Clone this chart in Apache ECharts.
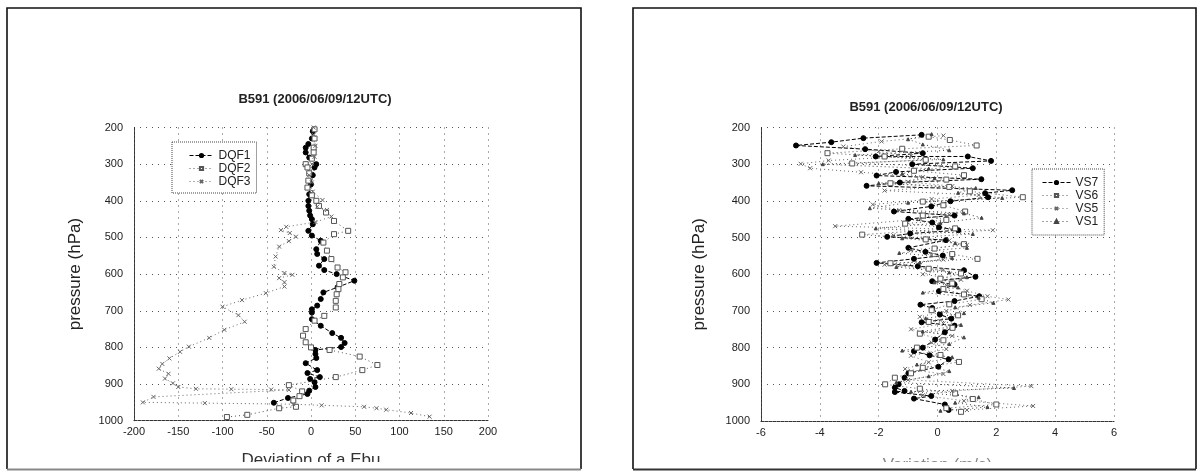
<!DOCTYPE html>
<html><head><meta charset="utf-8">
<script src="https://cdn.jsdelivr.net/npm/echarts@6/dist/echarts.min.js"></script>
<style>html,body{margin:0;padding:0;background:#fff}#c{width:1204px;height:471px}</style>
</head><body><div id="c"></div>
<script>
// ---------------- data ----------------
const chartTitle = 'B591 (2006/06/09/12UTC)';
const yName = 'pressure (hPa)';
const leftXName = 'Deviation of a Ebu';
const rightXName = 'Variation (m/s)';

// Left panel: pressure (hPa) and deviation values
const dqf1P = [210,230,245,255,268,282,300,309,330,355,382,400,414,427,440,450,464,482,495,509,532,545,559,577,589,600,618,636,650,668,686,696,705,723,741,761,774,788,799,807,818,829,843,862,870,881,886,895,908,918,927,938,951];
const dqf1X = [2,1,-3,-6,-6,-2,6,4,2,0,-2,-3,-3,-2,-1,1,2,-3,1,11,6,7,15,9,15,29,49,30,14,11,7,1,1,1,11,24,34,38,34,5,5,6,-6,7,-4,10,-1,4,5,-2,-4,-26,-42];

const dqf2P = [205,230,255,268,285,300,309,325,345,364,385,400,414,432,455,482,491,514,536,559,582,595,609,627,641,655,673,691,714,727,750,768,786,800,807,825,848,862,881,903,920,933,945,962,966,984,990];
const dqf2X = [4,4,3,3,1,-6,-4,-2,-3,-4,1,6,9,17,26,42,26,14,18,23,30,39,36,32,31,29,28,28,15,4,-6,-9,-6,0,21,55,75,58,28,-25,-10,-13,-20,-17,-36,-72,-95];

const dqf3P = [200,220,250,280,300,330,350,375,398,416,425,443,458,471,480,488,498,510,525,552,580,597,602,611,622,634,652,671,689,712,730,752,774,798,812,830,845,858,872,885,898,908,913,914,915,916,935,950,952,955,958,962,966,970,979,989];
const dqf3X = [3,3,5,4,1,-2,1,2,13,7,18,23,5,-28,-34,-24,-17,-25,-36,-40,-42,-30,-21,-36,-30,-30,-51,-78,-100,-82,-75,-98,-115,-138,-148,-160,-168,-172,-161,-165,-156,-150,-130,-90,-45,-25,-178,-190,-120,-20,12,60,74,85,113,134];

// Right panel
const vs7P = [220,229,240,249,259,270,279,279,291,300,311,321,331,341,350,359,371,379,390,401,415,429,440,449,459,472,480,489,498,507,528,539,549,558,569,578,589,607,619,628,646,660,673,683,692,710,721,731,740,758,778,800,810,821,832,852,870,882,900,909,918,921,932,939,955,970];
const vs7X = [-0.54,-2.52,-3.61,-4.81,-2.46,-0.50,-2.10,1.03,1.82,-0.86,1.20,-1.41,-2.07,1.49,-1.28,-2.41,2.54,1.62,1.72,0.44,-0.21,-1.48,0.58,-0.99,-0.18,0.05,0.71,-0.93,-1.71,0.29,-0.99,-0.41,0.18,-0.80,-2.07,-0.67,0.90,1.29,-0.18,0.58,0.05,1.42,0.58,-0.58,-0.18,0.08,0.47,-0.54,0.58,0.25,-0.08,-0.50,-0.80,-0.27,0.38,0.03,-0.99,-1.12,-1.32,-1.45,-1.12,-1.45,-0.21,-0.80,0.25,0.38];

const vs6P = [225,234,249,258,270,279,288,298,306,318,330,342,352,362,374,390,402,412,429,440,452,462,475,492,505,518,530,545,558,570,585,598,612,625,640,655,668,682,698,712,730,746,762,780,800,820,839,855,870,882,900,912,925,940,955,965,975];
const vs6X = [-0.3,0.42,1.33,-1.2,-3.74,-1.8,-0.4,-2.9,0.6,-0.8,0.9,0.3,-1.6,0.4,1.1,2.9,-0.5,0.2,0.94,-0.5,0.3,-1.1,0.6,-2.56,-0.4,0.9,-0.1,0.5,1.36,-1.6,-0.3,0.8,0.1,0.5,0.2,0.9,1.5,0.4,-0.2,0.7,-0.3,0.51,-0.6,0.2,-0.7,0.1,0.73,-0.5,-0.9,-1.45,-1.78,-0.6,0.6,1.2,2.0,0.3,0.8];

const vs5P = [222,238,252,265,278,290,299,311,322,335,348,360,372,384,395,410,425,438,450,469,480,494,508,520,534,548,560,574,588,600,615,630,645,660,669,684,700,716,734,750,768,786,804,822,840,858,872,888,905,918,930,945,959,970];
const vs5X = [0.2,-1.9,-3.2,-2.0,-0.9,-3.7,-4.65,-4.33,-2.6,-0.5,-1.0,0.5,-1.8,1.4,-0.2,-2.2,-1.3,0.4,-0.6,-3.48,1.88,-1.5,0.4,1.0,-0.9,-0.2,0.2,-1.8,0.2,-0.5,0.8,0.3,1.0,1.7,2.41,1.1,0.3,-0.6,0.2,-0.9,0.5,-0.2,0.3,-0.9,-0.3,-1.1,0.2,-1.0,3.19,0.5,-0.5,0.9,3.25,1.0];

const vs1P = [218,232,246,262,275,287,300,312,326,338,352,365,378,392,405,420,434,446,460,475,490,502,515,528,542,556,568,580,595,608,622,636,650,664,678,690,706,720,738,756,772,790,808,826,846,864,878,895,910,920,935,950,962,972];
const vs1X = [-0.2,-1.0,-0.5,0.4,-2.8,0.2,-3.9,-0.3,-1.2,-0.1,-2.0,1.3,0.7,2.2,-1.0,-2.3,0.9,1.5,0.1,-2.1,1.2,-1.2,0.6,1.0,-1.3,0.5,-0.6,-1.4,0.4,1.0,-0.1,0.7,-0.5,1.4,1.9,0.6,0.9,-0.4,0.8,-0.5,0.9,0.4,-1.2,0.5,-0.7,0.4,-0.3,-1.4,2.6,-0.9,1.4,0.6,1.7,0.1];

// ---------------- chart ----------------
const zip = (xs, ps) => xs.map((x, i) => [x, ps[i]]);
const FONT = '"Liberation Sans", Arial, sans-serif';
const crossPath = 'path://M0 0L10 10M10 0L0 10';

function mk(name, xs, ps, idx, symbol, size, stroke, fill, lineType, lineColor) {
  return {
    type: 'line', name, xAxisIndex: idx, yAxisIndex: idx, data: zip(xs, ps),
    symbol, symbolSize: size, showSymbol: true, animation: false, clip: true,
    lineStyle: { color: lineColor || stroke, width: 1, type: lineType },
    itemStyle: { color: fill, borderColor: stroke, borderWidth: 1 },
    emphasis: { disabled: true }
  };
}

const splitStyle = { show: true, showMinLine: true, showMaxLine: true, lineStyle: { color: '#555', width: 1, type: [1, 5] } };
const axisLineStyle = { show: true, onZero: false, lineStyle: { color: '#333', width: 1, type: [3, 1] } };
const labelStyle = { fontSize: 11, color: '#222', fontFamily: FONT, formatter: v => String(v) };

function yAx(idx, gap) {
  return {
    type: 'value', gridIndex: idx, min: 200, max: 1000, interval: 100, inverse: true,
    name: yName, nameLocation: 'middle', nameGap: gap, nameRotate: 90,
    nameTextStyle: { fontSize: 17, color: '#222', fontFamily: FONT },
    axisLine: axisLineStyle, axisTick: { show: false },
    axisLabel: Object.assign({ margin: 11 }, labelStyle), splitLine: splitStyle
  };
}
function xAx(idx, min, max, interval, name, color, gap) {
  return {
    type: 'value', gridIndex: idx, min, max, interval,
    name, nameLocation: 'middle', nameGap: gap,
    nameTextStyle: { fontSize: 17, color, fontFamily: FONT },
    axisLine: axisLineStyle, axisTick: { show: false },
    axisLabel: Object.assign({ margin: 6 }, labelStyle), splitLine: splitStyle
  };
}

const legendBase = {
  orient: 'vertical', itemGap: 0, itemHeight: 4,
  textStyle: { fontSize: 12, color: '#222', fontFamily: FONT, lineHeight: 13 },
  borderColor: '#444', borderWidth: 1, borderType: 'dotted',
  backgroundColor: '#fff', selectedMode: false,
  lineStyle: { width: 1 }
};

const chart = echarts.init(document.getElementById('c'), null, { renderer: 'canvas' });
chart.setOption({
  backgroundColor: '#fff',
  animation: false,
  title: [
    { text: chartTitle, left: 315, top: 93, textAlign: 'center', padding: 0,
      textStyle: { fontSize: 13, fontWeight: 'bold', color: '#222', fontFamily: FONT } },
    { text: chartTitle, left: 926, top: 101, textAlign: 'center', padding: 0,
      textStyle: { fontSize: 13, fontWeight: 'bold', color: '#222', fontFamily: FONT } }
  ],
  grid: [
    { left: 134, right: 716, top: 127.5, bottom: 50.3, containLabel: false, outerBoundsMode: 'none' },
    { left: 761, right: 90, top: 127.5, bottom: 50, containLabel: false, outerBoundsMode: 'none' }
  ],
  xAxis: [ xAx(0, -200, 200, 50, leftXName, '#333', 31), xAx(1, -6, 6, 2, rightXName, '#888', 36) ],
  yAxis: [ yAx(0, 50), yAx(1, 53) ],
  legend: [
    Object.assign({}, legendBase, { data: ['DQF1', 'DQF2', 'DQF3'], left: 172, top: 142, itemWidth: 24, padding: [7, 6, 5, 17] }),
    Object.assign({}, legendBase, { data: ['VS7', 'VS6', 'VS5', 'VS1'], left: 1032, top: 169, itemWidth: 28, padding: [7, 6, 7, 10] })
  ],
  series: [
    mk('DQF1', dqf1X, dqf1P, 0, 'circle', 5, '#000', '#000', 'dashed'),
    mk('DQF2', dqf2X, dqf2P, 0, 'rect', 5, '#555', '#fff', [1, 3]),
    mk('DQF3', dqf3X, dqf3P, 0, crossPath, 4, '#666', '#666', [1, 3]),
    mk('VS7', vs7X, vs7P, 1, 'circle', 5, '#000', '#000', 'dashed'),
    mk('VS6', vs6X, vs6P, 1, 'rect', 5, '#555', '#fff', [1, 3]),
    mk('VS5', vs5X, vs5P, 1, crossPath, 4, '#666', '#666', [1, 3]),
    mk('VS1', vs1X, vs1P, 1, 'triangle', 3, '#444', '#444', [1, 3])
  ],
  graphic: [
    // crop cover hiding the lower half of the axis titles (scan cut-off)
    { type: 'rect', z: 100, silent: true, shape: { x: 0, y: 462, width: 1204, height: 9 }, style: { fill: '#fff' } },
    // left panel frame
    { type: 'polyline', z: 101, silent: true, shape: { points: [[7, 469], [7, 8], [581, 8], [581, 469]] }, style: { stroke: '#111', lineWidth: 1.6, fill: null } },
    { type: 'line', z: 101, silent: true, shape: { x1: 7, y1: 469.5, x2: 581, y2: 469.5 }, style: { stroke: '#888', lineWidth: 2 } },
    // right panel frame
    { type: 'polyline', z: 101, silent: true, shape: { points: [[633, 469], [633, 8], [1196, 8], [1196, 469]] }, style: { stroke: '#111', lineWidth: 1.6, fill: null } },
    { type: 'line', z: 101, silent: true, shape: { x1: 633, y1: 469.5, x2: 1196, y2: 469.5 }, style: { stroke: '#333', lineWidth: 2 } }
  ]
});
</script>
</body></html>
